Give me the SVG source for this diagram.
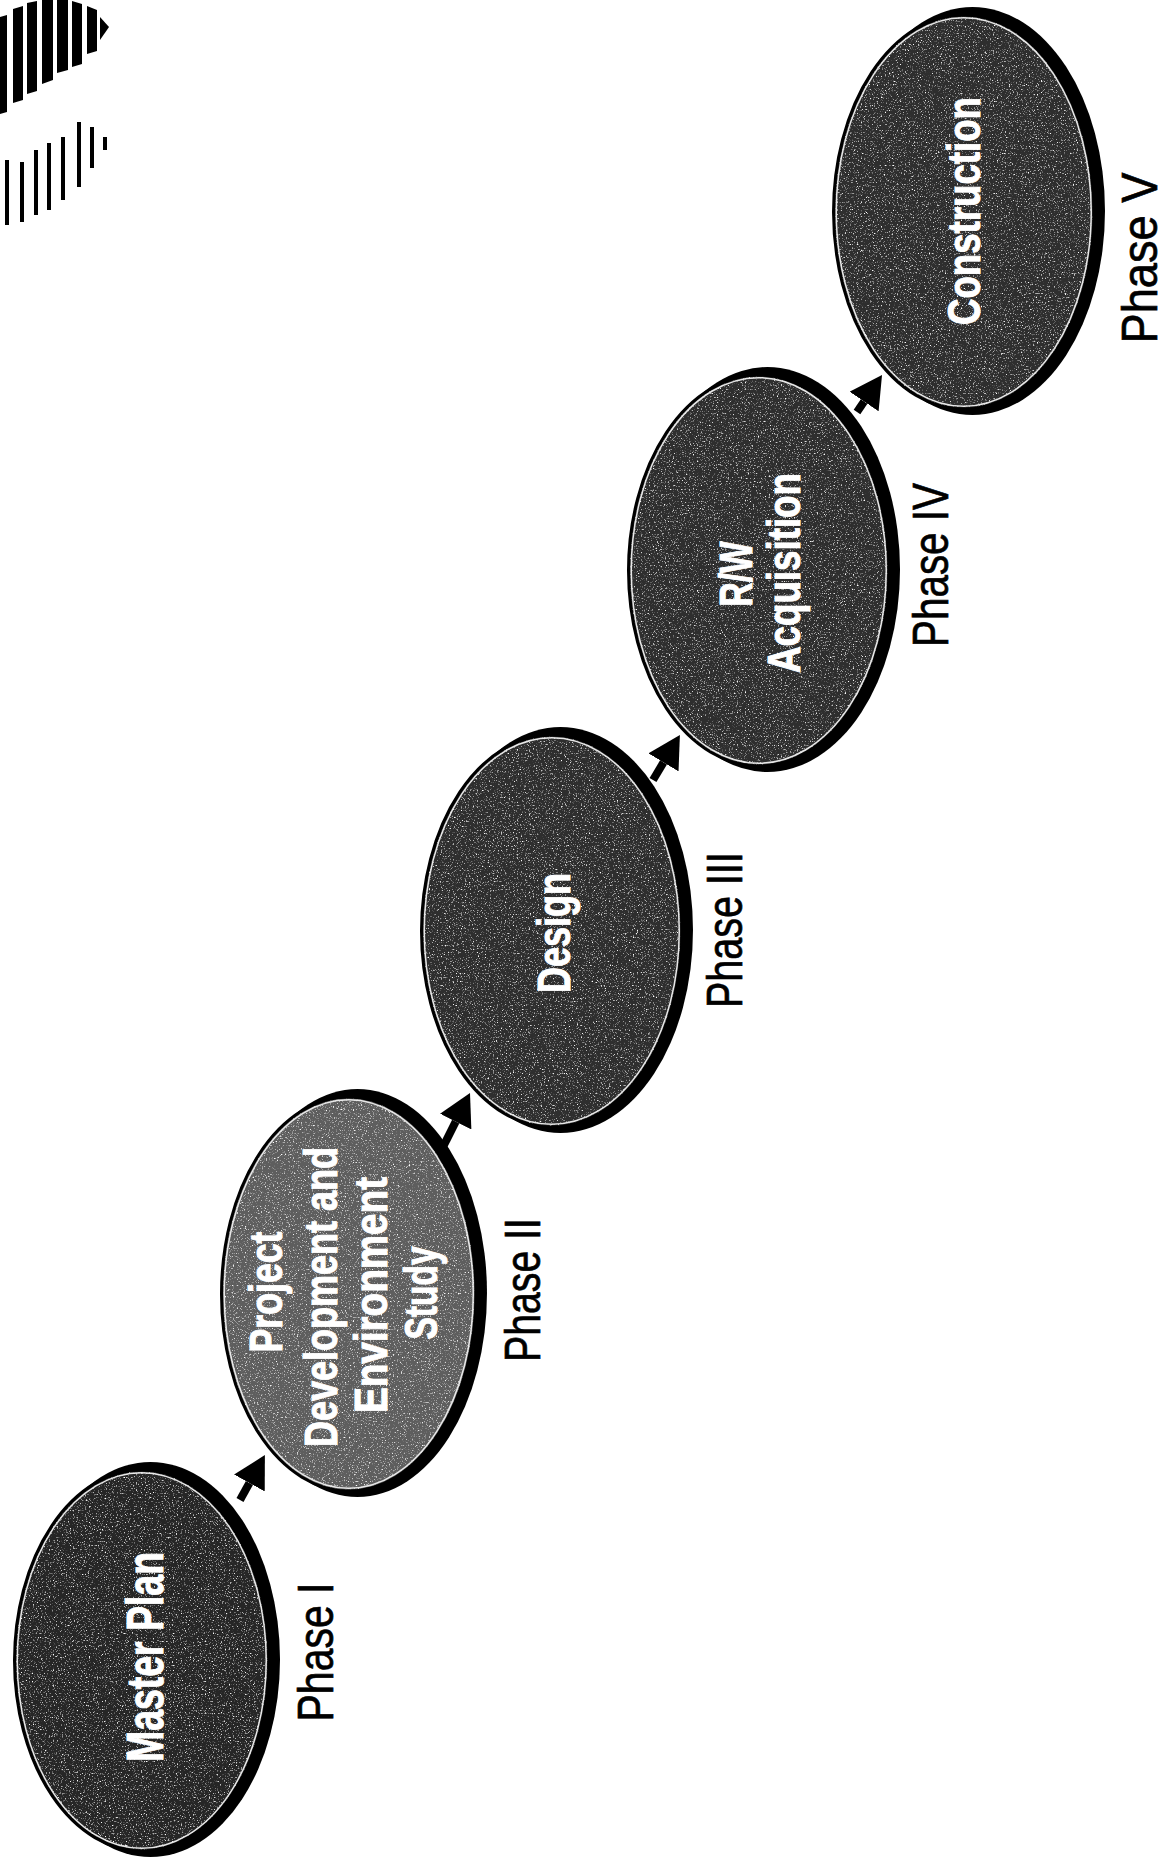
<svg xmlns="http://www.w3.org/2000/svg" width="1165" height="1864" viewBox="0 0 1165 1864">
<style>
.shadow{fill:#000}
.edge{fill:none;stroke:#000;stroke-width:3}
.inner{fill:none;stroke:#e8e8e8;stroke-width:1.5}
.fill{filter:url(#grain)}
.dark{fill:#262626}
.dark2{fill:#2e2e2e}
.mid{fill:#5e5e5e}
.lbl{font-family:"Liberation Sans",Arial,sans-serif;font-weight:bold;font-size:46px;fill:#fff;stroke:#fff;stroke-width:1}
.phase{font-family:"Liberation Sans",Arial,sans-serif;font-size:50px;fill:#000;stroke:#000;stroke-width:0.7}
.conn{stroke:#000;stroke-width:8;fill:none;marker-end:url(#ah)}
.deco{fill:#000}
</style>
<defs>
<marker id="ah" markerUnits="userSpaceOnUse" viewBox="0 0 32 35" markerWidth="32" markerHeight="35" refX="0" refY="17.5" orient="auto">
<path d="M0,0 L32,17.5 L0,35 Z" fill="#000"/>
</marker>
<filter id="grain" x="0" y="0" width="1" height="1" color-interpolation-filters="sRGB">
<feTurbulence type="fractalNoise" baseFrequency="0.75" numOctaves="2" seed="7" result="t"/>
<feColorMatrix in="t" type="matrix" values="0 0 0 0 1  0 0 0 0 1  0 0 0 0 1  4 0 0 0 -2.3" result="sp"/>
<feComposite in="sp" in2="SourceAlpha" operator="in" result="sp2"/>
<feMerge><feMergeNode in="SourceGraphic"/><feMergeNode in="sp2"/></feMerge>
</filter>
</defs>
<rect width="1165" height="1864" fill="#fff"/>

<g id="decoration">
<polygon class="deco" points="0,17 7,15 7,112 0,114"/>
<polygon class="deco" points="13,9 23,6 23,100 13,103"/>
<polygon class="deco" points="27,3 37,1 37,91 27,94"/>
<polygon class="deco" points="42,0 53,0 53,80 42,84"/>
<polygon class="deco" points="57,0 68,0 68,70 57,73"/>
<polygon class="deco" points="72,1 82,4 82,64 72,67"/>
<polygon class="deco" points="87,6 97,10 97,51 87,54"/>
<polygon class="deco" points="100,17 109,27 100,40"/>
<rect class="deco" x="5" y="160" width="4" height="65"/>
<rect class="deco" x="20" y="162" width="4" height="60"/>
<rect class="deco" x="34" y="150" width="4" height="65"/>
<rect class="deco" x="47" y="143" width="4" height="67"/>
<rect class="deco" x="61" y="137" width="4" height="63"/>
<rect class="deco" x="77" y="122" width="4" height="65"/>
<rect class="deco" x="90" y="127" width="4" height="41"/>
<rect class="deco" x="103" y="137" width="4" height="13"/>
</g>

<g id="n1">
<ellipse class="shadow" cx="150.5" cy="1659.5" rx="129.5" ry="197.5"/>
<ellipse class="fill dark" cx="141.75" cy="1660.5" rx="127.25" ry="190.5"/>
<ellipse class="edge" cx="141.75" cy="1660.5" rx="127.25" ry="190.5"/>
<ellipse class="inner" cx="141.75" cy="1660.5" rx="124.5" ry="187.8"/>
<text class="lbl" transform="translate(163,1657) rotate(-90)" text-anchor="middle" textLength="210" lengthAdjust="spacingAndGlyphs" style="font-size:52px">Master Plan</text>
</g>

<g id="n2">
<ellipse class="shadow" cx="357.5" cy="1293" rx="129.5" ry="204"/>
<ellipse class="fill mid" cx="348.75" cy="1294" rx="127.25" ry="197"/>
<ellipse class="edge" cx="348.75" cy="1294" rx="127.25" ry="197"/>
<ellipse class="inner" cx="348.75" cy="1294" rx="124.5" ry="194.3"/>
<text class="lbl" transform="translate(282,1292) rotate(-90)" text-anchor="middle" textLength="121" lengthAdjust="spacingAndGlyphs">Project</text>
<text class="lbl" transform="translate(337,1297) rotate(-90)" text-anchor="middle" textLength="300" lengthAdjust="spacingAndGlyphs">Development and</text>
<text class="lbl" transform="translate(387,1295) rotate(-90)" text-anchor="middle" textLength="236" lengthAdjust="spacingAndGlyphs">Environment</text>
<text class="lbl" transform="translate(437,1293) rotate(-90)" text-anchor="middle" textLength="93" lengthAdjust="spacingAndGlyphs">Study</text>
</g>

<g id="n3">
<ellipse class="shadow" cx="560.5" cy="930" rx="132.5" ry="203"/>
<ellipse class="fill dark2" cx="551.75" cy="931" rx="130.25" ry="196"/>
<ellipse class="edge" cx="551.75" cy="931" rx="130.25" ry="196"/>
<ellipse class="inner" cx="551.75" cy="931" rx="127.5" ry="193.3"/>
<text class="lbl" transform="translate(570,933) rotate(-90)" text-anchor="middle" textLength="120" lengthAdjust="spacingAndGlyphs">Design</text>
</g>

<g id="n4">
<ellipse class="shadow" cx="767.5" cy="569.5" rx="132.5" ry="202.5"/>
<ellipse class="fill dark2" cx="758.75" cy="570.5" rx="130.25" ry="195.5"/>
<ellipse class="edge" cx="758.75" cy="570.5" rx="130.25" ry="195.5"/>
<ellipse class="inner" cx="758.75" cy="570.5" rx="127.5" ry="192.8"/>
<text class="lbl" transform="translate(752,574) rotate(-90)" text-anchor="middle" textLength="65" lengthAdjust="spacingAndGlyphs">R/W</text>
<text class="lbl" transform="translate(800,573) rotate(-90)" text-anchor="middle" textLength="200" lengthAdjust="spacingAndGlyphs">Acquisition</text>
</g>

<g id="n5">
<ellipse class="shadow" cx="972.5" cy="211" rx="132.5" ry="204"/>
<ellipse class="fill dark2" cx="963.75" cy="212" rx="130.25" ry="197"/>
<ellipse class="edge" cx="963.75" cy="212" rx="130.25" ry="197"/>
<ellipse class="inner" cx="963.75" cy="212" rx="127.5" ry="194.3"/>
<text class="lbl" transform="translate(980,211) rotate(-90)" text-anchor="middle" textLength="228" lengthAdjust="spacingAndGlyphs">Construction</text>
</g>

<g id="phase-labels">
<text class="phase" transform="translate(333,1652) rotate(-90)" text-anchor="middle" textLength="139" lengthAdjust="spacingAndGlyphs">Phase I</text>
<text class="phase" transform="translate(540,1290) rotate(-90)" text-anchor="middle" textLength="144" lengthAdjust="spacingAndGlyphs">Phase II</text>
<text class="phase" transform="translate(742,930) rotate(-90)" text-anchor="middle" textLength="156" lengthAdjust="spacingAndGlyphs">Phase III</text>
<text class="phase" transform="translate(948,565) rotate(-90)" text-anchor="middle" textLength="164" lengthAdjust="spacingAndGlyphs">Phase IV</text>
<text class="phase" transform="translate(1157,258) rotate(-90)" text-anchor="middle" textLength="171" lengthAdjust="spacingAndGlyphs">Phase V</text>
</g>

<g id="connectors">
<line class="conn" x1="240" y1="1500" x2="249.4" y2="1483"/>
<line class="conn" x1="443" y1="1147" x2="455.7" y2="1121.6"/>
<line class="conn" x1="653" y1="780" x2="663.5" y2="762.4"/>
<line class="conn" x1="857" y1="412" x2="864.1" y2="401.5"/>
</g>
</svg>
